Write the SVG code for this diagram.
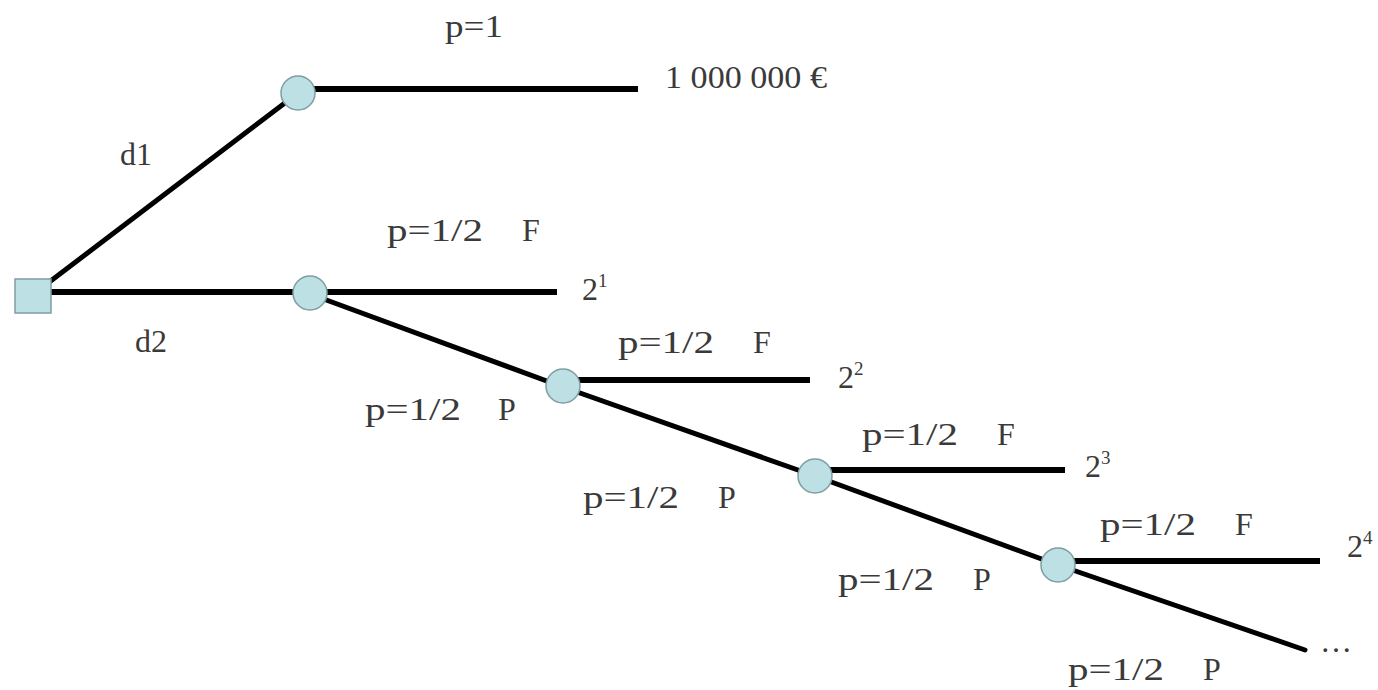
<svg xmlns="http://www.w3.org/2000/svg" width="1378" height="690" viewBox="0 0 1378 690">
<style>
.t{font-family:"Liberation Serif","Times New Roman",serif;font-size:32px;fill:#3a3a3a}
.s{font-size:19px}
.h{stroke:#000;stroke-width:6;fill:none;stroke-linecap:butt}
.d{stroke:#000;stroke-width:5;fill:none;stroke-linecap:round;stroke-linejoin:round}
.c{fill:#bde0e5;stroke:#7f9ea3;stroke-width:1.5}
</style>
<rect width="1378" height="690" fill="#fff"/>
<g id="connectors">
<line class="d" x1="48" y1="283" x2="298" y2="93"/>
<line class="h" x1="298" y1="89" x2="638" y2="89"/>
<line class="h" x1="50" y1="292" x2="557" y2="292"/>
<polyline class="d" points="310,294 563,387 815,476 1058,565 1305,650"/>
<line class="h" x1="563" y1="380" x2="810" y2="380"/>
<line class="h" x1="815" y1="470" x2="1065" y2="470"/>
<line class="h" x1="1058" y1="561" x2="1320" y2="561"/>
</g>
<g id="decision"><rect class="c" x="15" y="279" width="36" height="34"/></g>
<g id="chance1"><circle class="c" cx="298" cy="93" r="17"/></g>
<g id="chance2"><circle class="c" cx="310" cy="293" r="17"/></g>
<g id="chance3"><circle class="c" cx="563" cy="386" r="17"/></g>
<g id="chance4"><circle class="c" cx="815" cy="476" r="17"/></g>
<g id="chance5"><circle class="c" cx="1058" cy="565" r="17"/></g>
<g id="labels">
<text class="t" x="445" y="37" textLength="58" lengthAdjust="spacingAndGlyphs">p=1</text>
<text class="t" x="665" y="88" textLength="162" lengthAdjust="spacingAndGlyphs">1 000 000 €</text>
<text class="t" x="120" y="165">d1</text>
<text class="t" x="135" y="352">d2</text>
<text class="t" x="387" y="241" textLength="96" lengthAdjust="spacingAndGlyphs">p=1/2</text><text class="t" x="522" y="241">F</text>
<text class="t" x="582" y="300">2<tspan class="s" dy="-13">1</tspan></text>
<text class="t" x="618" y="353" textLength="96" lengthAdjust="spacingAndGlyphs">p=1/2</text><text class="t" x="753" y="353">F</text>
<text class="t" x="838" y="388">2<tspan class="s" dy="-13">2</tspan></text>
<text class="t" x="365" y="420" textLength="96" lengthAdjust="spacingAndGlyphs">p=1/2</text><text class="t" x="498" y="420">P</text>
<text class="t" x="862" y="445" textLength="96" lengthAdjust="spacingAndGlyphs">p=1/2</text><text class="t" x="997" y="445">F</text>
<text class="t" x="1085" y="477">2<tspan class="s" dy="-13">3</tspan></text>
<text class="t" x="583" y="508" textLength="96" lengthAdjust="spacingAndGlyphs">p=1/2</text><text class="t" x="718" y="508">P</text>
<text class="t" x="1100" y="535" textLength="96" lengthAdjust="spacingAndGlyphs">p=1/2</text><text class="t" x="1235" y="535">F</text>
<text class="t" x="1347" y="557">2<tspan class="s" dy="-13">4</tspan></text>
<text class="t" x="838" y="590" textLength="96" lengthAdjust="spacingAndGlyphs">p=1/2</text><text class="t" x="973" y="590">P</text>
<text class="t" x="1320" y="652">…</text>
<text class="t" x="1068" y="680" textLength="96" lengthAdjust="spacingAndGlyphs">p=1/2</text><text class="t" x="1203" y="680">P</text>
</g>
</svg>
